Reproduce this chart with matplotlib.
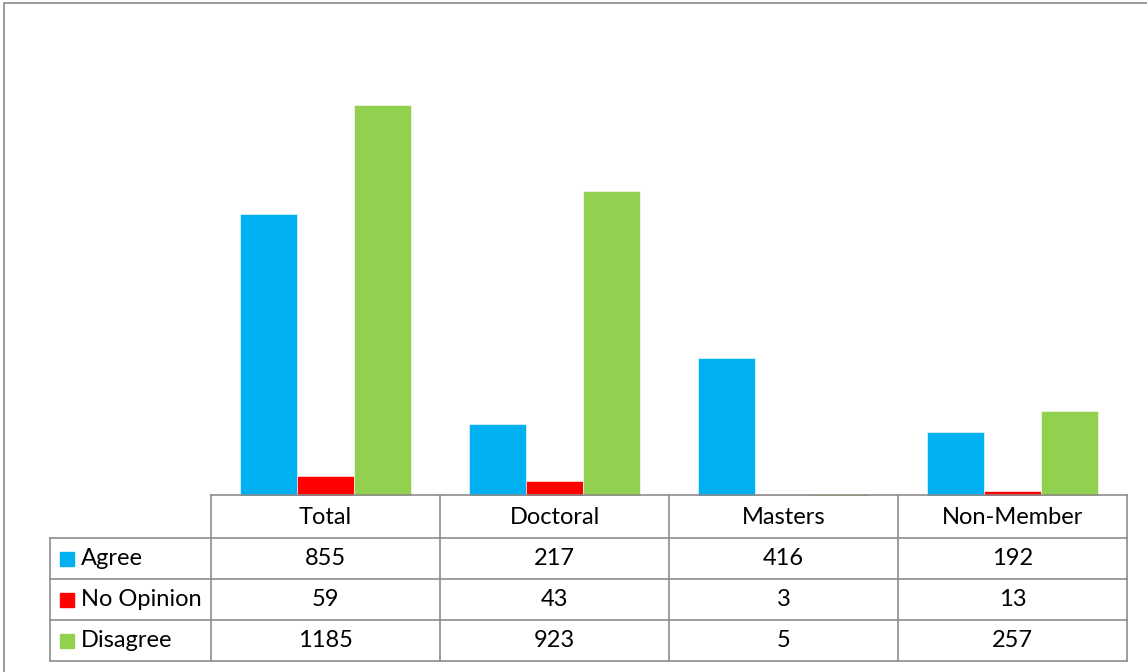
import numpy as np
import matplotlib.pyplot as plt
from matplotlib.lines import Line2D
from matplotlib.patches import Rectangle

plt.rcParams['font.family'] = ['Lato', 'DejaVu Sans']

categories = ['Total', 'Doctoral', 'Masters', 'Non-Member']
series = ['Agree', 'No Opinion', 'Disagree']
agree = [855, 217, 416, 192]
no_opinion = [59, 43, 3, 13]
disagree = [1185, 923, 5, 257]
values = [agree, no_opinion, disagree]
colors = ['#00B0F0', '#FF0000', '#92D050']

W, H = 1147, 672
fig = plt.figure(figsize=(W / 100, H / 100), dpi=100)

def fx(px):
    return px / W

def fy(py):
    return 1 - py / H

# plot area sits right on top of the data table
left, right, base, top = 211, 1127, 495.5, 33.9
ax = fig.add_axes([fx(left), fy(base), fx(right) - fx(left), fy(top) - fy(base)])
x = np.arange(len(categories))
w = 0.25
for i, (vals, c) in enumerate(zip(values, colors)):
    ax.bar(x + (i - 1) * w, vals, width=w, color=c, edgecolor='white', linewidth=0.4)
ax.set_xlim(-0.5, len(categories) - 0.5)
ax.set_ylim(0, 1400)
ax.axis('off')

# outer chart border (runs off the right/bottom edge)
fig.add_artist(Rectangle((fx(4), fy(700)), fx(1200) - fx(4), fy(3.5) - fy(700),
                         transform=fig.transFigure, fill=False,
                         edgecolor='#8a8a8a', linewidth=1.2))

# data table
lc = '#8c8c8c'
col_x = [211 + 229 * k for k in range(len(categories) + 1)]
row_y = [495, 538, 579, 620, 661]
lab_x = 50

def hline(y, x0, x1):
    fig.add_artist(Line2D([fx(x0), fx(x1)], [fy(y), fy(y)], color=lc, linewidth=1.2))

def vline(xx, y0, y1):
    fig.add_artist(Line2D([fx(xx), fx(xx)], [fy(y0), fy(y1)], color=lc, linewidth=1.2))

hline(row_y[0], col_x[0], col_x[-1])
for y in row_y[1:]:
    hline(y, lab_x, col_x[-1])
vline(lab_x, row_y[1], row_y[-1])
for xx in col_x:
    vline(xx, row_y[0], row_y[-1])

fs = 17
for j, cat in enumerate(categories):
    cx = (col_x[j] + col_x[j + 1]) / 2
    fig.text(fx(cx), fy((row_y[0] + row_y[1]) / 2 + 1), cat, ha='center', va='center', fontsize=fs)

for i, (name, vals, c) in enumerate(zip(series, values, colors)):
    cy = (row_y[i + 1] + row_y[i + 2]) / 2
    fig.add_artist(Rectangle((fx(60), fy(cy + 7)), fx(74) - fx(60), fy(cy - 7) - fy(cy + 7),
                             transform=fig.transFigure, color=c))
    fig.text(fx(81), fy(cy), name, ha='left', va='center', fontsize=fs)
    for j, v in enumerate(vals):
        cx = (col_x[j] + col_x[j + 1]) / 2
        fig.text(fx(cx), fy(cy), str(v), ha='center', va='center', fontsize=fs)

plt.savefig('out.png', dpi=100)
